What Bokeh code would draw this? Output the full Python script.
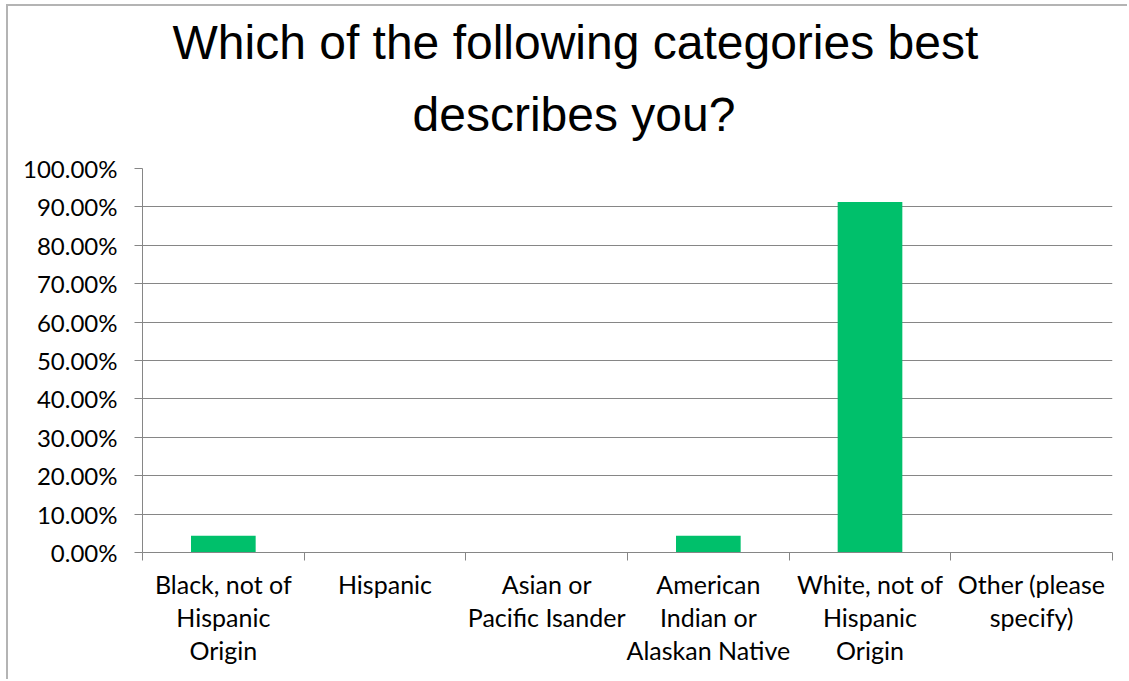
from bokeh.plotting import figure
from bokeh.models import (Range1d, LinearAxis, FixedTicker, NumeralTickFormatter, Title,
                          ColumnDataSource, CustomLabelingPolicy)
from bokeh.embed import file_html
from bokeh.resources import INLINE

# ---- data ----
categories = [
    "Black, not of\nHispanic\nOrigin",
    "Hispanic",
    "Asian or\nPacific Isander",
    "American\nIndian or\nAlaskan Native",
    "White, not of\nHispanic\nOrigin",
    "Other (please\nspecify)",
]
shares = [0.0435, 0.0, 0.0, 0.0435, 0.913, 0.0]
y_ticks = [0.0, 0.1, 0.2, 0.3, 0.4, 0.5, 0.6, 0.7, 0.8, 0.9, 1.0]
title_lines = ["Which of the following categories best", "describes you?"]

GRID = "#868686"
BAR = "#00C06B"
LABEL_FONT = "Lato"

n = len(categories)
centers = [i + 0.5 for i in range(n)]
bounds = [float(i) for i in range(n + 1)]
source = ColumnDataSource(dict(x=centers, cat=categories, share=shares))

p = figure(
    x_range=Range1d(0, n),
    y_range=Range1d(0, 1),
    width=1121, height=675,
    output_backend="svg", toolbar_location=None,
    x_axis_location=None,
    min_border_left=134, min_border_right=17,
    min_border_top=162, min_border_bottom=129,
)
p.styles = {"margin-left": "6px", "margin-top": "4px",
            "border-left": "2px solid #b4b4b4", "border-top": "2px solid #b4b4b4"}
p.outline_line_color = None
p.background_fill_color = "white"
p.border_fill_color = "white"

p.vbar(x="x", top="share", width=0.4, source=source,
       fill_color=BAR, line_color=None)

# category boundary ticks (axis line + tick marks, no labels)
tick_axis = LinearAxis(ticker=FixedTicker(ticks=bounds),
                       major_label_policy=CustomLabelingPolicy(
                           code="for (const i of [...indices]) indices.unset(i); return indices"))
tick_axis.major_label_text_font_size = "1px"
tick_axis.major_label_standoff = 0
tick_axis.major_tick_in = 0
tick_axis.major_tick_out = 8
tick_axis.minor_tick_line_color = None
tick_axis.axis_line_color = GRID
tick_axis.major_tick_line_color = GRID
p.add_layout(tick_axis, "below")

# category labels
cat_axis = LinearAxis(ticker=FixedTicker(ticks=centers),
                      major_label_overrides={c: lab for c, lab in zip(centers, categories)})
cat_axis.axis_line_color = None
cat_axis.major_tick_line_color = None
cat_axis.minor_tick_line_color = None
cat_axis.major_label_standoff = -2
cat_axis.major_label_text_font = LABEL_FONT
cat_axis.major_label_text_font_size = "25px"
cat_axis.major_label_text_line_height = 1.1
cat_axis.major_label_text_color = "black"
cat_axis.major_label_orientation = "horizontal"
p.add_layout(cat_axis, "below")

# y axis
yax = p.yaxis[0]
yax.ticker = FixedTicker(ticks=y_ticks)
yax.formatter = NumeralTickFormatter(format="0.00%")
yax.major_tick_in = 0
yax.major_tick_out = 8
yax.minor_tick_line_color = None
yax.axis_line_color = GRID
yax.major_tick_line_color = GRID
yax.major_label_standoff = 17
yax.major_label_text_font = LABEL_FONT
yax.major_label_text_font_size = "24px"
yax.major_label_text_color = "black"

p.xgrid.visible = False
p.ygrid.ticker = FixedTicker(ticks=y_ticks)
p.ygrid.grid_line_color = GRID
p.ygrid.grid_line_width = 1

# title (two lines, first added sits nearest the plot)
p.add_layout(Title(text=title_lines[1], align="left", offset=270, standoff=55,
                   text_font="Liberation Sans", text_font_size="48px",
                   text_font_style="normal", text_color="black"), "above")
p.add_layout(Title(text=title_lines[0], align="left", offset=30, standoff=-20,
                   text_font="Liberation Sans", text_font_size="48px",
                   text_font_style="normal", text_color="black"), "above")

open("out.html", "w").write(file_html(p, INLINE))
